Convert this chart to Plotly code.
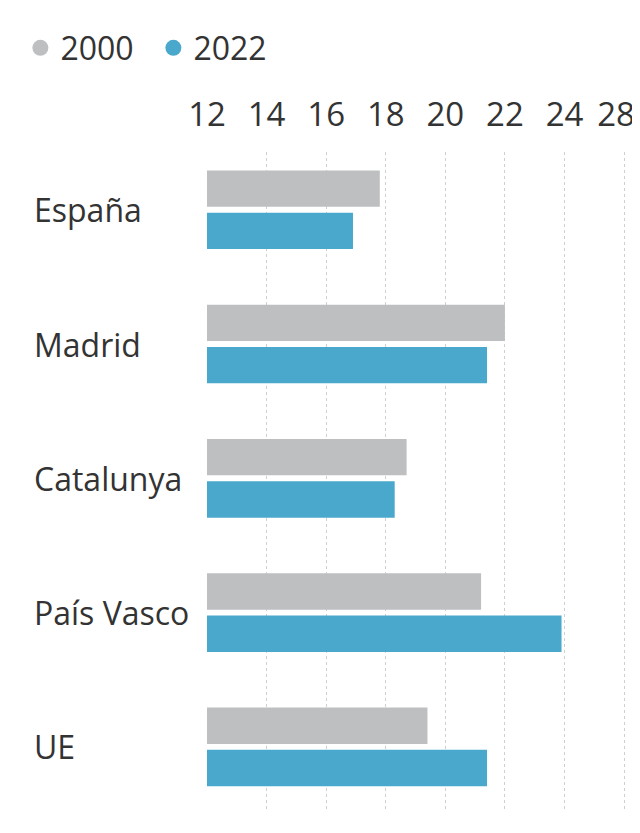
import plotly.graph_objects as go

categories = ["España", "Madrid", "Catalunya", "País Vasco", "UE"]
values_2000 = [17.8, 22.0, 18.7, 21.2, 19.4]
values_2022 = [16.9, 21.4, 18.3, 23.9, 21.4]
series_names = ["2000", "2022"]
tick_values = [12, 14, 16, 18, 20, 22, 24, 26]
tick_labels = ["12", "14", "16", "18", "20", "22", "24", "28"]

GRAY = "#bebfc0"
BLUE = "#4aa8cc"
TEXT = "#333333"
FONT = "Open Sans"
X_RANGE = [12, 26.4]

fig = go.Figure()
fig.add_trace(go.Bar(y=categories, x=values_2000, orientation="h", marker_color=GRAY,
                     marker_line_width=0, showlegend=False, name=series_names[0]))
fig.add_trace(go.Bar(y=categories, x=values_2022, orientation="h", marker_color=BLUE,
                     marker_line_width=0, showlegend=False, name=series_names[1]))
# legend entries with circle symbols
for nm, col in zip(series_names, [GRAY, BLUE]):
    fig.add_trace(go.Scatter(x=[None], y=[None], mode="markers", name=nm,
                             marker=dict(color=col, size=22, symbol="circle")))
# invisible trace on the label axis so it is drawn
fig.add_trace(go.Scatter(x=[None], y=[None], xaxis="x2", showlegend=False, hoverinfo="skip"))

for cat in categories:
    fig.add_annotation(x=0, xref="paper", y=cat, yref="y", xshift=-175,
                       text=cat, showarrow=False, xanchor="left", yanchor="middle",
                       font=dict(family=FONT, size=32, color=TEXT))

# the last label sits slightly left of its gridline (kept inside the page, as in the source)
label_positions = tick_values[:-1] + [tick_values[-1] - 0.27]

fig.update_layout(
    width=640, height=833,
    margin=dict(l=190, r=12, t=137, b=31),
    paper_bgcolor="white", plot_bgcolor="white",
    barmode="group", bargap=0.37, bargroupgap=0.14,
    font=dict(family=FONT, color=TEXT),
    legend=dict(orientation="h", x=-0.435, xanchor="left", y=1.158, yanchor="middle",
                font=dict(family=FONT, size=32, color=TEXT),
                entrywidth=88, entrywidthmode="pixels", itemsizing="trace"),
    xaxis=dict(range=X_RANGE, side="top", tickvals=tick_values, showticklabels=False,
               showgrid=True, gridcolor="#cfcfcf", griddash="dot", gridwidth=1,
               zeroline=False, showline=False, ticks="", automargin=False),
    xaxis2=dict(range=X_RANGE, overlaying="x", side="top", tickvals=label_positions,
                ticktext=tick_labels, showgrid=False, zeroline=False, showline=False,
                ticks="", automargin=False, ticklabelstandoff=18,
                tickfont=dict(family=FONT, size=33, color=TEXT)),
    yaxis=dict(categoryorder="array", categoryarray=categories, range=[4.47, -0.43],
               showticklabels=False, showgrid=False, zeroline=False, automargin=False),
)

fig.write_html("out.html")
